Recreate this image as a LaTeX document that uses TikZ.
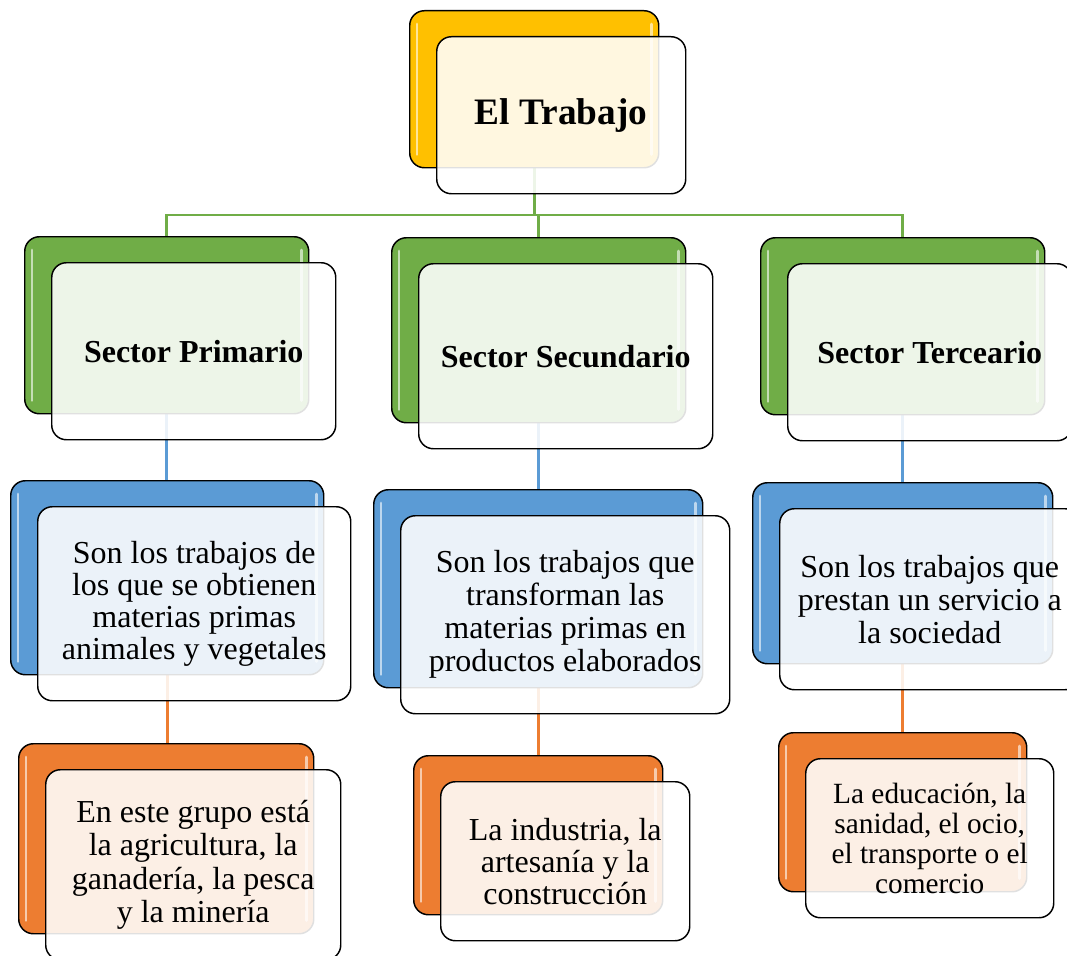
\documentclass[tikz,border=0pt]{standalone}
\usepackage{fontspec}
\setmainfont{Liberation Serif}
\usetikzlibrary{positioning, backgrounds}
\definecolor{trabajoyellow}{RGB}{255,192,0}
\definecolor{sectorgreen}{RGB}{112,173,71}
\definecolor{sectorblue}{RGB}{91,155,213}
\definecolor{sectororange}{RGB}{237,125,49}
\def\pxu{0.75pt}

\begin{document}
\begin{tikzpicture}[x=0.75pt, y=-0.75pt, line width=1.1pt,
  backbox/.style={draw=black, rounded corners=11pt, inner sep=0,
    anchor=north west},
  frontbox/.style={draw=black, fill=white, fill opacity=0.88,
    text opacity=1, rounded corners=11pt, inner sep=0, align=center,
    anchor=north west},
  link/.style={line width=2.2pt}]
  \def\mybox#1#2#3#4#5#6#7{
    \node[backbox, fill=#1, minimum width=#4*\pxu, minimum height=#5*\pxu]
    (#2) at #3 {};
    \draw[white, opacity=0.6, line width=2.2pt, line cap=round]
    ([xshift=8*\pxu, yshift=-14*\pxu] #2.north west) --
    ([xshift=8*\pxu, yshift=14*\pxu] #2.south west)
    ([xshift=-8*\pxu, yshift=-14*\pxu] #2.north east) --
    ([xshift=-8*\pxu, yshift=14*\pxu] #2.south east);
    \node[frontbox, font=#6, minimum width=#4*\pxu, minimum height=#5*\pxu]
    (#2f) at ([xshift=27*\pxu, yshift=-26*\pxu] #2.north west) {#7};
  }
  %\draw[help lines] (0,0) grid[step=50] (1067,956);
  \useasboundingbox (0,0) rectangle (1067,956);

  \mybox{trabajoyellow}{trabajo}{(409,10)}{249}{157}
  {\fontsize{28}{30}\selectfont\bfseries}{El Trabajo}

  \mybox{sectorgreen}{primario}{(24,236)}{284}{177}
  {\fontsize{24}{26}\selectfont\bfseries}{Sector Primario}

  \mybox{sectorgreen}{secundario}{(391,237)}{294}{185}
  {\fontsize{24}{26}\selectfont\bfseries}{Sector Secundario}

  \mybox{sectorgreen}{terceario}{(760,237)}{284}{177}
  {\fontsize{24}{26}\selectfont\bfseries}{Sector Terceario}

  \mybox{sectorblue}{primdef}{(10,480)}{313}{194}
  {\fontsize{24}{24}\selectfont}{Son los trabajos de\\
    los que se obtienen\\ materias primas\\ animales y vegetales}

  \mybox{sectorblue}{secdef}{(373,489)}{329}{198}
  {\fontsize{24}{24.75}\selectfont}{Son los trabajos que\\
    transforman las\\ materias primas en\\ productos elaborados}

  \mybox{sectorblue}{terdef}{(752,482)}{300}{181}
  {\fontsize{24}{24.75}\selectfont}{Son los trabajos que\\
    prestan un servicio a\\ la sociedad}

  \mybox{sectororange}{primej}{(18,743)}{295}{190}
  {\fontsize{24}{25}\selectfont}{En este grupo está\\
    la agricultura, la\\ ganadería, la pesca\\ y la minería}

  \mybox{sectororange}{secej}{(413,755)}{249}{159}
  {\fontsize{24}{24}\selectfont}{La industria, la\\
    artesanía y la\\ construcción}

  \mybox{sectororange}{terej}{(778,732)}{248}{159}
  {\fontsize{22}{22.5}\selectfont}{La educación, la\\
    sanidad, el ocio,\\ el transporte o el\\ comercio}

  \begin{scope}[on background layer]
    \coordinate (bus) at (0,215);
    \draw[link, sectorgreen] (trabajo.south) -- (trabajo.south |- bus)
    -| (primario.north);
    \draw[link, sectorgreen] (trabajo.south |- bus) -| (secundario.north);
    \draw[link, sectorgreen] (trabajo.south |- bus) -| (terceario.north);
    \draw[link, sectorblue] (primario.south) -- (primario.south |- primdef.north);
    \draw[link, sectorblue] (secundario.south) -- (secundario.south |- secdef.north);
    \draw[link, sectorblue] (terceario.south) -- (terceario.south |- terdef.north);
    \draw[link, sectororange] (primdef.south) -- (primdef.south |- primej.north);
    \draw[link, sectororange] (secdef.south) -- (secdef.south |- secej.north);
    \draw[link, sectororange] (terdef.south) -- (terdef.south |- terej.north);
  \end{scope}
\end{tikzpicture}
\end{document}
